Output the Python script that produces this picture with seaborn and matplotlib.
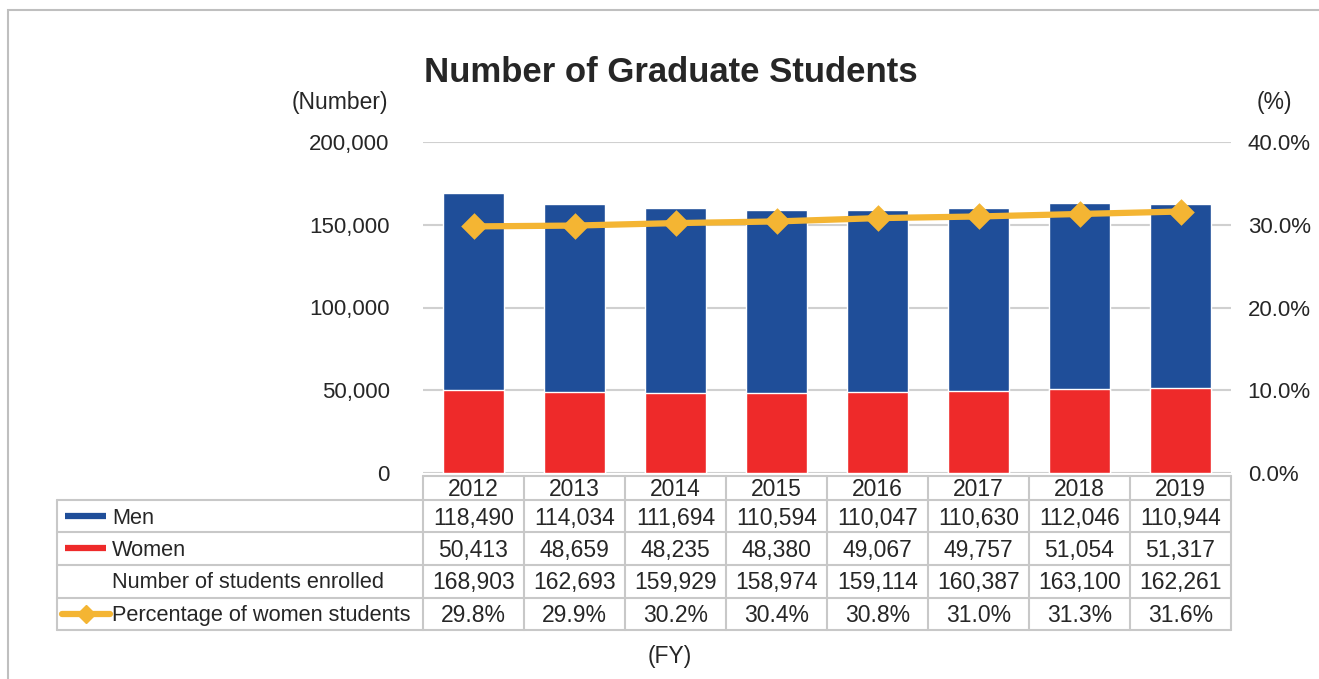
import seaborn as sns
import numpy as np
import pandas as pd
import matplotlib.pyplot as plt
from matplotlib.lines import Line2D
from matplotlib.patches import Rectangle
from matplotlib.transforms import blended_transform_factory

years = ["2012", "2013", "2014", "2015", "2016", "2017", "2018", "2019"]
men = [118490, 114034, 111694, 110594, 110047, 110630, 112046, 110944]
women = [50413, 48659, 48235, 48380, 49067, 49757, 51054, 51317]
enrolled = [168903, 162693, 159929, 158974, 159114, 160387, 163100, 162261]
pct_women = [29.8, 29.9, 30.2, 30.4, 30.8, 31.0, 31.3, 31.6]

blue = "#1F4E99"
red = "#EE2A2A"
orange = "#F4B533"
grid_c = "#D0D0D0"
txt_c = "#262626"
W, H = 1319, 679

sns.set_style("white")
plt.rcParams["font.family"] = ["Liberation Sans", "DejaVu Sans"]

df = pd.DataFrame({"year": years, "men": men, "women": women,
                   "enrolled": enrolled, "pct": pct_women})


def fx(x):
    return x / W


def fy(y):
    return 1 - y / H


fig = plt.figure(figsize=(W / 100, H / 100), dpi=100)
ax = fig.add_axes([fx(423), fy(473), fx(1231) - fx(423), fy(142) - fy(473)])

# stacked bars: total in blue, women on top in red
sns.barplot(data=df, x="year", y="enrolled", color=blue, width=0.6,
            saturation=1, ax=ax, zorder=2)
sns.barplot(data=df, x="year", y="women", color=red, width=0.6,
            saturation=1, ax=ax, zorder=3)
ax.set_xlim(-0.5, 7.5)
ax.set_ylim(0, 200000)
ax.set_yticks([0, 50000, 100000, 150000, 200000])
ax.set_yticklabels(["0", "50,000", "100,000", "150,000", "200,000"])
ax.yaxis.grid(True, color=grid_c, lw=1.5, zorder=0)
ax.set_axisbelow(True)
ax.set_xticks([])
ax.set_xlabel("")
ax.set_ylabel("")
ax.tick_params(axis="y", length=0, pad=24, labelsize=16, labelcolor=txt_c)
for s in ax.spines.values():
    s.set_visible(False)

ax2 = ax.twinx()
sns.pointplot(data=df, x="year", y="pct", color=orange, markers="D",
              markersize=10, linewidth=4.5, ax=ax2, zorder=5)
ax2.set_xlim(-0.5, 7.5)
ax2.set_ylim(0, 40)
ax2.set_yticks([0, 10, 20, 30, 40])
ax2.set_yticklabels(["0.0%", "10.0%", "20.0%", "30.0%", "40.0%"])
ax2.tick_params(axis="y", length=0, pad=12, labelsize=16, labelcolor=txt_c)
ax2.set_xlabel("")
ax2.set_ylabel("")
for s in ax2.spines.values():
    s.set_visible(False)

fig.text(fx(671), fy(72), "Number of Graduate Students", ha="center",
         va="center", fontsize=25, fontweight="bold", color=txt_c)
fig.text(fx(340), fy(102), "(Number)", ha="center", va="center",
         fontsize=16.5, color=txt_c)
fig.text(fx(1274), fy(102), "(%)", ha="center", va="center",
         fontsize=16.5, color=txt_c)
fig.text(fx(670), fy(656), "(FY)", ha="center", va="center",
         fontsize=16.5, color=txt_c)

# outer frame
fig.add_artist(Rectangle((fx(8), fy(700)), fx(1340) - fx(8), fy(10) - fy(700),
                         transform=fig.transFigure, fill=False,
                         edgecolor="#BFBFBF", lw=1.5))

# data table below the axes
tb = blended_transform_factory(ax.transData, fig.transFigure)
tf = fig.transFigure
line_c = "#C8C8C8"
rows_y = [476, 500, 532, 565, 598, 630]
for i, y in enumerate(rows_y):
    x0 = 423 if i == 0 else 57
    fig.add_artist(Line2D([fx(x0), fx(1231)], [fy(y), fy(y)], transform=tf,
                          color=line_c, lw=1.5))
fig.add_artist(Line2D([fx(57), fx(57)], [fy(500), fy(630)], transform=tf,
                      color=line_c, lw=1.5))
for i in range(len(years) + 1):
    fig.add_artist(Line2D([i - 0.5, i - 0.5], [fy(476), fy(630)], transform=tb,
                          color=line_c, lw=1.5))

centers = [490, 518, 550, 583, 616]
row_vals = [
    years,
    [f"{v:,}" for v in men],
    [f"{v:,}" for v in women],
    [f"{v:,}" for v in enrolled],
    [f"{v:.1f}%" for v in pct_women],
]
for yc, vals in zip(centers, row_vals):
    for i, v in enumerate(vals):
        fig.text(i, fy(yc), v, transform=tb, ha="center", va="center",
                 fontsize=16.5, color=txt_c)

labels = ["Men", "Women", "Number of students enrolled",
          "Percentage of women students"]
for yc, lab in zip(centers[1:], labels):
    fig.text(fx(112), fy(yc), lab, ha="left", va="center", fontsize=15.7,
             color=txt_c)

fig.add_artist(Line2D([fx(65), fx(106)], [fy(516), fy(516)], transform=tf,
                      color=blue, lw=4.5, solid_capstyle="butt"))
fig.add_artist(Line2D([fx(65), fx(106)], [fy(548), fy(548)], transform=tf,
                      color=red, lw=4.5, solid_capstyle="butt"))
fig.add_artist(Line2D([fx(62), fx(110)], [fy(614), fy(614)], transform=tf,
                      color=orange, lw=4.5))
fig.add_artist(Line2D([fx(86)], [fy(614)], transform=tf, color=orange,
                      marker="D", markersize=9, lw=0))

fig.savefig("out.png", dpi=100)
